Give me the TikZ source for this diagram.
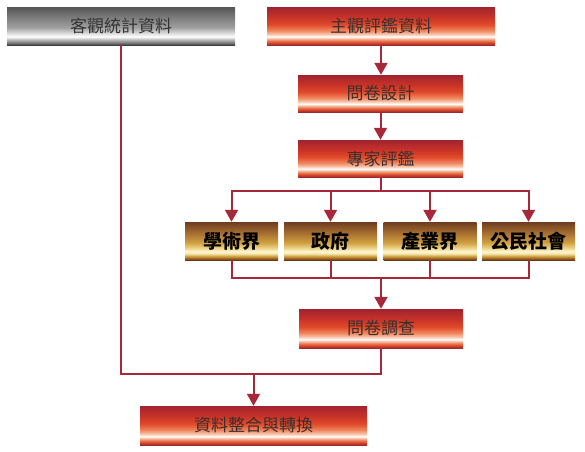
\documentclass[tikz,border=0pt]{standalone}
\usepackage{fontspec}
\setmainfont{Noto Sans CJK TC}
\usetikzlibrary{arrows.meta}
\definecolor{lineRed}{HTML}{A8283A}
\definecolor{txtDark}{HTML}{3A2E2E}
\definecolor{rA}{HTML}{9E2A2B}\definecolor{rB}{HTML}{C83A2A}\definecolor{rC}{HTML}{E86A40}
\definecolor{rD}{HTML}{F5B090}\definecolor{rE}{HTML}{F8C8B0}\definecolor{rF}{HTML}{F08860}
\definecolor{rG}{HTML}{E04A2A}\definecolor{rH}{HTML}{C83228}\definecolor{rI}{HTML}{A02430}
\definecolor{gA}{HTML}{3C3C3C}\definecolor{gB}{HTML}{6A6A6A}\definecolor{gC}{HTML}{A8A8A8}
\definecolor{gD}{HTML}{E0E0E0}\definecolor{gE}{HTML}{A0A0A0}\definecolor{gF}{HTML}{808080}\definecolor{gG}{HTML}{555555}
\definecolor{oA}{HTML}{6A3A18}\definecolor{oB}{HTML}{9A6020}\definecolor{oC}{HTML}{D0A040}
\definecolor{oD}{HTML}{F0E0A0}\definecolor{oE}{HTML}{FFF8D8}\definecolor{oF}{HTML}{F0D890}
\definecolor{oG}{HTML}{D0A040}\definecolor{oH}{HTML}{A87030}\definecolor{oI}{HTML}{6E3C20}
\pgfdeclareverticalshading{redbar}{100bp}{%
  color(0bp)=(rA); color(25bp)=(rA); color(27bp)=(rB); color(30bp)=(rC);
  color(33bp)=(rD); color(36bp)=(white); color(39bp)=(rE); color(44bp)=(rF);
  color(52bp)=(rG); color(62bp)=(rH); color(75bp)=(rI); color(100bp)=(rI)}
\pgfdeclareverticalshading{graybar}{100bp}{%
  color(0bp)=(gA); color(25bp)=(gA); color(27bp)=(gB); color(31bp)=(gC);
  color(36bp)=(white); color(40bp)=(gD); color(48bp)=(gE); color(60bp)=(gF);
  color(75bp)=(gG); color(100bp)=(gG)}
\pgfdeclareverticalshading{goldbar}{100bp}{%
  color(0bp)=(oA); color(25bp)=(oA); color(27bp)=(oB); color(30bp)=(oC);
  color(33bp)=(oD); color(36bp)=(oE); color(40bp)=(oF); color(48bp)=(oG);
  color(60bp)=(oH); color(75bp)=(oI); color(100bp)=(oI)}
\tikzset{
  redbox/.style={rectangle, inner sep=0pt, shading=redbar, text=txtDark, font=\fontsize{17}{18}\selectfont},
  graybox/.style={rectangle, inner sep=0pt, shading=graybar, text=black!80, font=\fontsize{17}{18}\selectfont},
  goldbox/.style={rectangle, inner sep=0pt, shading=goldbar, text=black, font=\fontsize{19}{20}\selectfont\bfseries, minimum width=93pt, minimum height=38pt},
  conn/.style={draw=lineRed, line width=2pt},
  arr/.style={conn, -{Triangle[width=13pt,length=12pt]}}
}
\begin{document}
\begin{tikzpicture}[x=1pt,y=-1pt]
\useasboundingbox (0,0) rectangle (585,451);
\node[graybox, minimum width=228pt, minimum height=38pt] (obj) at (121,26) {客觀統計資料};
\node[redbox, minimum width=228pt, minimum height=38pt] (subj) at (381,26) {主觀評鑑資料};
\node[redbox, minimum width=165pt, minimum height=37pt] (design) at (380.5,93.5) {問卷設計};
\node[redbox, minimum width=165pt, minimum height=37pt] (expert) at (380.5,158.5) {專家評鑑};
\node[goldbox] (g1) at (231.5,241) {學術界};
\node[goldbox] (g2) at (330.5,241) {政府};
\node[goldbox] (g3) at (430,241) {產業界};
\node[goldbox] (g4) at (528.5,241) {公民社會};
\node[redbox, minimum width=164pt, minimum height=39pt] (survey) at (381,328.5) {問卷調查};
\node[redbox, minimum width=227pt, minimum height=39pt] (integ) at (253.5,425.5) {資料整合與轉換};
\coordinate (split) at (380.5,191);
\coordinate (merge) at (381,278);
\coordinate (join) at (381,374);
\coordinate (drop) at (253.5,374);
\draw[arr] (subj.south) -- (subj.south |- design.north);
\draw[arr] (design) -- (expert);
\draw[conn] (expert.south) -- (split);
\foreach \g in {g1,g2,g3,g4}{
  \draw[arr] (split) -| (\g.north);
  \draw[conn] (\g.south) |- (merge);
}
\draw[arr] (merge) -- (survey.north);
\draw[conn] (survey.south) -- (join) -| (obj.south);
\draw[arr] (drop) -- (integ.north);
\end{tikzpicture}
\end{document}
